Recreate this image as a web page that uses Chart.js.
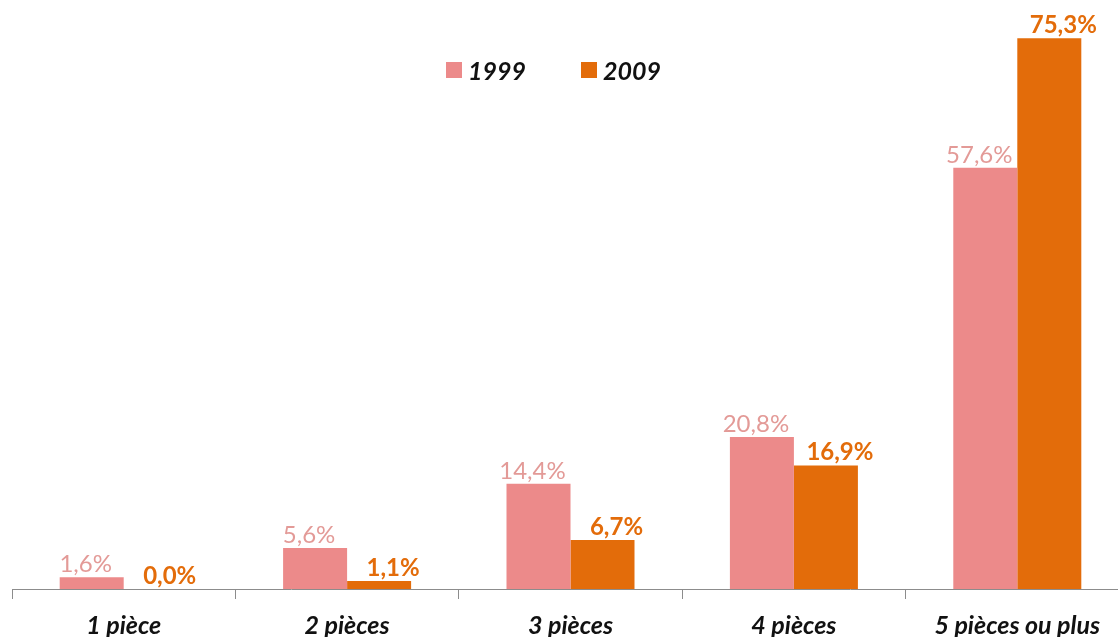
<!DOCTYPE html>
<html>
<head>
<meta charset="utf-8">
<script src="https://cdn.jsdelivr.net/npm/chart.js@4.4.1/dist/chart.umd.min.js"></script>
<style>
  html, body { margin: 0; padding: 0; background: #fff; overflow: hidden; }
  #wrap { position: relative; width: 1129px; height: 656px; }
  #legend { position: absolute; top: 55px; left: 446px; display: flex; font-family: Lato, sans-serif; font-weight: bold; font-style: italic; font-size: 25px; color: #111; }
  #legend .item { display: flex; align-items: center; margin-right: 55px; }
  #legend .box { width: 16px; height: 16px; margin-right: 6px; }
</style>
</head>
<body>
<div id="wrap">
  <canvas id="chart"></canvas>
  <div id="legend"></div>
</div>
<script>
const categories = ['1 pièce', '2 pièces', '3 pièces', '4 pièces', '5 pièces ou plus'];
const years = ['1999', '2009'];
const values1999 = [1.6, 5.6, 14.4, 20.8, 57.6];
const values2009 = [0.0, 1.1, 6.7, 16.9, 75.3];

const barColors = ['#ec8a8a', '#e36c0a'];
const labelColors = ['#e39a97', '#e36c0a'];
const labelWeights = ['normal', 'bold'];
const labelShift = [-6, 14];

// legend in HTML so the chart area can start at the top
const legendEl = document.getElementById('legend');
years.forEach((y, i) => {
    const item = document.createElement('div');
    item.className = 'item';
    item.innerHTML = '<span class="box" style="background:' + barColors[i] + '"></span>' + y;
    legendEl.appendChild(item);
});

// value labels above each bar
const valueLabels = {
    id: 'valueLabels',
    afterDatasetsDraw(chart) {
        const ctx = chart.ctx;
        ctx.save();
        ctx.textAlign = 'center';
        ctx.textBaseline = 'alphabetic';
        chart.data.datasets.forEach((ds, i) => {
            const meta = chart.getDatasetMeta(i);
            ctx.fillStyle = labelColors[i];
            ctx.font = labelWeights[i] + ' 24px Lato, sans-serif';
            meta.data.forEach((bar, j) => {
                const txt = ds.data[j].toFixed(1).replace('.', ',') + '%';
                ctx.fillText(txt, bar.x + labelShift[i], bar.y - 5);
            });
        });
        ctx.restore();
    }
};

new Chart(document.getElementById('chart'), {
    type: 'bar',
    data: {
        labels: categories,
        datasets: [{
            label: years[0],
            data: values1999,
            backgroundColor: barColors[0]
        }, {
            label: years[1],
            data: values2009,
            backgroundColor: barColors[1]
        }]
    },
    options: {
        responsive: true,
        maintainAspectRatio: false,
        animation: false,
        categoryPercentage: 0.573,
        barPercentage: 1,
        layout: {
            padding: { left: 12, right: 0, top: 4, bottom: 3 }
        },
        plugins: {
            legend: { display: false },
            tooltip: { enabled: false }
        },
        scales: {
            x: {
                offset: true,
                grid: {
                    display: true,
                    drawOnChartArea: false,
                    tickLength: 10,
                    color: '#8c8c8c'
                },
                border: { color: '#8c8c8c' },
                ticks: {
                    padding: 12,
                    color: '#111',
                    font: { family: 'Lato', size: 25, weight: 'bold', style: 'italic' }
                }
            },
            y: {
                display: false,
                min: 0,
                max: 80
            }
        }
    },
    plugins: [valueLabels]
});
</script>
</body>
</html>
